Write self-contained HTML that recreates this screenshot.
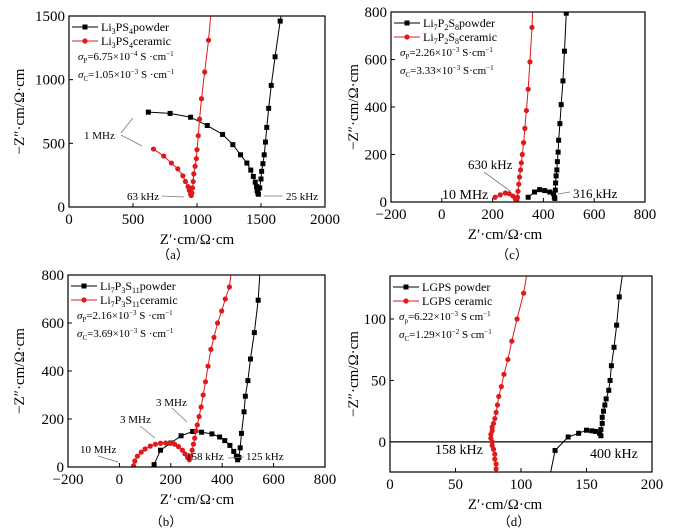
<!DOCTYPE html>
<html><head><meta charset="utf-8">
<style>
body{margin:0;background:#fff;}
svg{display:block;font-family:"Liberation Serif",serif;}
</style></head>
<body>
<svg id="fig" width="694" height="532" viewBox="0 0 694 532" xmlns="http://www.w3.org/2000/svg"></svg>
<script>
// ---- Panel (a) data ----
const aPowderX=[620,790,950,1080,1200,1280,1340,1390,1420,1440,1455,1465,1470,1475,1480,1490,1500,1505,1515,1525,1535,1545,1560,1580,1610,1650];
const aPowderY=[745,735,705,640,570,490,410,345,290,240,195,160,130,110,100,150,220,280,340,410,510,625,775,955,1180,1460];
const aCeramicX=[660,740,800,850,890,910,930,940,950,955,960,965,970,975,985,995,1000,1010,1020,1035,1060,1090];
const aCeramicY=[455,400,345,300,245,200,160,130,100,90,110,150,200,260,320,380,450,560,690,850,1060,1310];
// ---- Panel (c) data ----
const cPowderX=[340,365,385,405,425,440,443,445,447,448,450,453,455,458,460,465,470,477,483,490];
const cPowderY=[20,42,52,48,42,35,20,15,50,80,110,135,170,210,260,330,410,510,635,795];
const cCeramicX=[210,230,250,265,280,290,295,298,300,303,306,310,313,317,322,327,333,340,347,355];
const cCeramicY=[20,30,38,35,25,12,8,20,45,75,105,135,165,200,250,310,385,475,590,735];
// ---- Panel (b) data ----
const bPowderX=[135,160,200,240,285,320,360,390,410,430,445,455,460,465,470,475,485,490,500,510,525,540];
const bPowderY=[10,70,100,130,148,145,138,125,110,90,65,45,30,40,80,140,230,295,360,450,560,695];
const bCeramicX=[55,60,70,85,100,120,140,160,180,200,215,230,245,255,265,272,278,283,288,293,298,303,310,318,326,335,345,356,368,382,398,412,428];
const bCeramicY=[5,25,45,62,75,87,95,99,100,99,95,85,70,55,40,30,45,70,95,120,150,175,210,250,300,355,420,490,540,600,650,700,750];
// ---- Panel (d) data ----
const dPowderX=[126,136,144,150,154,157,160,161,161,162,162,163,164,165,167,168,169,171,173,175];
const dPowderY=[-7,4,7,9.5,9,8.5,7,5,10,15,20,25,30,35,42,50,62,77,95,118];
const dCeramicX=[81,81,80,80,79,78,78,77,77,78,78,79,80,81,82,83,85,87,90,93,97,102];
const dCeramicY=[-22,-18,-14,-10,-6,-3,0,3,6,9,12,15,19,24,30,37,45,55,67,82,100,121];

const NS="http://www.w3.org/2000/svg";
const svg=document.getElementById('fig');
function el(tag,attrs,parent){const e=document.createElementNS(NS,tag);for(const k in attrs)e.setAttribute(k,attrs[k]);(parent||svg).appendChild(e);return e;}
function txt(s,x,y,size,anchor,parent){const t=el('text',{x:x,y:y,'font-size':size,'text-anchor':anchor||'start',fill:'#000'},parent);t.innerHTML=s;return t;}

function panel(cfg){
  const g=el('g',{});
  
  
  const sx=v=>cfg.L+(v-cfg.x0)/(cfg.x1-cfg.x0)*(cfg.R-cfg.L);
  const sy=v=>cfg.B-(v-cfg.y0)/(cfg.y1-cfg.y0)*(cfg.B-cfg.T);
  const cp='clip-'+cfg.name;
  const cl=el('clipPath',{id:cp},g);el('rect',{x:cfg.L,y:cfg.T,width:cfg.R-cfg.L,height:cfg.B-cfg.T},cl);
  // ticks
  cfg.xt.forEach(v=>{const x=sx(v);el('line',{x1:x,x2:x,y1:cfg.B,y2:cfg.B-4,stroke:'#000'},g);
    const t=txt(String(v).replace('-','\u2212'),x,cfg.B+17,15,'middle',g);
    });
  cfg.yt.forEach(v=>{const y=sy(v);el('line',{x1:cfg.L,x2:cfg.L+4,y1:y,y2:y,stroke:'#000'},g);
    const t=txt(String(v),cfg.L-4,y+5,15,'end',g);
    });
  if(cfg.zeroLine){el('line',{x1:cfg.L,x2:cfg.R,y1:sy(0),y2:sy(0),stroke:'#000','stroke-width':1.2},g);}
  // series
  function series(xs,ys,color,marker,ext,nm){
    const sg=el('g',{'clip-path':'url(#'+cp+')'},g);
    
    
    let pts=xs.map((x,i)=>sx(x)+','+sy(ys[i]));
    if(ext){pts.push(sx(ext[0])+','+sy(ext[1]));}
    if(cfg.pre&&cfg.pre[nm]){pts.unshift(sx(cfg.pre[nm][0])+','+sy(cfg.pre[nm][1]));}
    el('polyline',{points:pts.join(' '),fill:'none',stroke:color,'stroke-width':1},sg);
    xs.forEach((x,i)=>{
      if(marker==='sq'){const m=el('rect',{x:sx(x)-2.5,y:sy(ys[i])-2.5,width:5,height:5,fill:color},sg);}
      else {const m=el('circle',{cx:sx(x),cy:sy(ys[i]),r:2.6,fill:color},sg);}
    });
  }
  series(cfg.px,cfg.py,'#000','sq',cfg.pext,'powder-series');
  series(cfg.cx,cfg.cy,'#e0191b','ci',cfg.cext,'ceramic-series');
  // frame
  el('rect',{x:cfg.L,y:cfg.T,width:cfg.R-cfg.L,height:cfg.B-cfg.T,fill:'none',stroke:'#000','stroke-width':1.2},g);
  // legend
  const lx=cfg.L+3, ly=cfg.T+11;
  const lg=el('g',{},g);
  el('line',{x1:lx,x2:lx+26,y1:ly,y2:ly,stroke:'#000'},lg);el('rect',{x:lx+10.5,y:ly-2.5,width:5,height:5,fill:'#000'},lg);
  txt(cfg.leg1,lx+29,ly+4,12,'start',lg);
  el('line',{x1:lx,x2:lx+26,y1:ly+14,y2:ly+14,stroke:'#e0191b'},lg);el('circle',{cx:lx+13,cy:ly+14,r:2.6,fill:'#e0191b'},lg);
  txt(cfg.leg2,lx+29,ly+18,12,'start',lg);
  txt(cfg.s1,lx+6,ly+33,11,'start',lg);
  txt(cfg.s2,lx+6,ly+51,11,'start',lg);
  // axis titles
  const xt=txt('Z\u2032\u00b7cm/\u03a9\u00b7cm',cfg.xtx,cfg.B+37,15,'middle',g);
  xt.setAttribute('font-style','normal');
  const yt=txt('\u2212Z\u2033\u00b7cm/\u03a9\u00b7cm',0,0,15,'middle',g);
  yt.setAttribute('transform','translate('+cfg.ytx+','+((cfg.T+cfg.B)/2)+') rotate(-90)');
  
  const cap=txt(cfg.cap,cfg.capx,cfg.capy,13,'middle',g);
  
  // annotations
  (cfg.ann||[]).forEach(a=>{
    const t=txt(a[0],a[1],a[2],a[3]||11,'start',g);
    if(a[4]){a[4].forEach(ln=>el('line',{x1:ln[0],y1:ln[1],x2:ln[2],y2:ln[3],stroke:'#777','stroke-width':0.8},g));}
  });
  return g;
}

panel({name:'panel-a',L:69,R:325,T:16,B:207,x0:0,x1:2000,y0:0,y1:1500,
  xt:[0,500,1000,1500,2000],yt:[0,500,1000,1500],
  px:aPowderX,py:aPowderY,cx:aCeramicX,cy:aCeramicY,pext:[1665,1560],cext:[1112,1560],
  leg1:'Li<tspan font-size="8" dy="3">3</tspan><tspan dy="-3">PS</tspan><tspan font-size="8" dy="3">4</tspan><tspan dy="-3">powder</tspan>',
  leg2:'Li<tspan font-size="8" dy="3">3</tspan><tspan dy="-3">PS</tspan><tspan font-size="8" dy="3">4</tspan><tspan dy="-3">ceramic</tspan>',
  s1:'<tspan font-style="italic">σ</tspan><tspan font-size="7" dy="3">P</tspan><tspan dy="-3">=6.75×10</tspan><tspan font-size="7" dy="-4">−4</tspan><tspan dy="4"> S ·cm</tspan><tspan font-size="7" dy="-4">−1</tspan>',
  s2:'<tspan font-style="italic">σ</tspan><tspan font-size="7" dy="3">C</tspan><tspan dy="-3">=1.05×10</tspan><tspan font-size="7" dy="-4">−3</tspan><tspan dy="4"> S ·cm</tspan><tspan font-size="7" dy="-4">−1</tspan>',
  xtx:197,ytx:24,cap:'（a）',capx:173,capy:259,
  ann:[['1 MHz',84,139,11,[[121,133,133,118],[121,135,142,146]]],['63 kHz',127,200,11,[[162,196,184,197]]],['25 kHz',286,200,11,[[264,196,283,196]]]]});

panel({name:'panel-c',L:391,R:645,T:12,B:202,x0:-200,x1:800,y0:0,y1:800,
  xt:[-200,0,200,400,600,800],yt:[0,200,400,600,800],
  px:cPowderX,py:cPowderY,cx:cCeramicX,cy:cCeramicY,pext:[495,900],cext:[362,900],
  leg1:'Li<tspan font-size="8" dy="3">7</tspan><tspan dy="-3">P</tspan><tspan font-size="8" dy="3">2</tspan><tspan dy="-3">S</tspan><tspan font-size="8" dy="3">8</tspan><tspan dy="-3">powder</tspan>',
  leg2:'Li<tspan font-size="8" dy="3">7</tspan><tspan dy="-3">P</tspan><tspan font-size="8" dy="3">2</tspan><tspan dy="-3">S</tspan><tspan font-size="8" dy="3">8</tspan><tspan dy="-3">ceramic</tspan>',
  s1:'<tspan font-style="italic">σ</tspan><tspan font-size="7" dy="3">P</tspan><tspan dy="-3">=2.26×10</tspan><tspan font-size="7" dy="-4">−3</tspan><tspan dy="4"> S·cm</tspan><tspan font-size="7" dy="-4">−1</tspan>',
  s2:'<tspan font-style="italic">σ</tspan><tspan font-size="7" dy="3">C</tspan><tspan dy="-3">=3.33×10</tspan><tspan font-size="7" dy="-4">−3</tspan><tspan dy="4"> S·cm</tspan><tspan font-size="7" dy="-4">−1</tspan>',
  xtx:505,ytx:358,cap:'（c）',capx:512,capy:259,
  ann:[['630 kHz',468,169,13,[[484,172,510,191]]],['10 MHz',442,199,14],['316 kHz',573,198,13,[[558,194,570,192]]]]});

panel({name:'panel-b',L:68,R:325,T:275,B:467,x0:-200,x1:800,y0:0,y1:800,
  xt:[-200,0,200,400,600,800],yt:[0,200,400,600,800],
  px:bPowderX,py:bPowderY,cx:bCeramicX,cy:bCeramicY,pext:[552,900],cext:[445,900],
  leg1:'Li<tspan font-size="8" dy="3">7</tspan><tspan dy="-3">P</tspan><tspan font-size="8" dy="3">3</tspan><tspan dy="-3">S</tspan><tspan font-size="8" dy="3">11</tspan><tspan dy="-3">powder</tspan>',
  leg2:'Li<tspan font-size="8" dy="3">7</tspan><tspan dy="-3">P</tspan><tspan font-size="8" dy="3">3</tspan><tspan dy="-3">S</tspan><tspan font-size="8" dy="3">11</tspan><tspan dy="-3">ceramic</tspan>',
  s1:'<tspan font-style="italic">σ</tspan><tspan font-size="7" dy="3">P</tspan><tspan dy="-3">=2.16×10</tspan><tspan font-size="7" dy="-4">−3</tspan><tspan dy="4"> S ·cm</tspan><tspan font-size="7" dy="-4">−1</tspan>',
  s2:'<tspan font-style="italic">σ</tspan><tspan font-size="7" dy="3">C</tspan><tspan dy="-3">=3.69×10</tspan><tspan font-size="7" dy="-4">−3</tspan><tspan dy="4"> S ·cm</tspan><tspan font-size="7" dy="-4">−1</tspan>',
  xtx:197,ytx:24,cap:'（b）',capx:166,capy:526,
  ann:[['3 MHz',156,406,11,[[172,408,187,422]]],['3 MHz',120,423,11,[[140,426,155,438]]],['10 MHz',80,453,11,[[98,456,118,462]]],['158 kHz',186,460,11],['125 kHz',246,460,11,[[228,458,244,457]]]]});

panel({name:'panel-d',L:390,R:652,T:276,B:472,x0:0,x1:200,y0:-24.5,y1:135,zeroLine:true,
  xt:[0,50,100,150,200],yt:[0,50,100],
  px:dPowderX,py:dPowderY,cx:dCeramicX,cy:dCeramicY,pext:[178,140],cext:[105,140],
  pre:{'powder-series':[122,-28]},
  leg1:'LGPS powder',leg2:'LGPS ceramic',
  s1:'<tspan font-style="italic">σ</tspan><tspan font-size="7" dy="3">p</tspan><tspan dy="-3">=6.22×10</tspan><tspan font-size="7" dy="-4">−3</tspan><tspan dy="4"> S cm</tspan><tspan font-size="7" dy="-4">−1</tspan>',
  s2:'<tspan font-style="italic">σ</tspan><tspan font-size="7" dy="3">C</tspan><tspan dy="-3">=1.29×10</tspan><tspan font-size="7" dy="-4">−2</tspan><tspan dy="4"> S cm</tspan><tspan font-size="7" dy="-4">−1</tspan>',
  xtx:505,ytx:358,cap:'（d）',capx:514,capy:526,
  ann:[['158 kHz',435,454,14],['400 kHz',590,458,14]]});
</script>
</body></html>
